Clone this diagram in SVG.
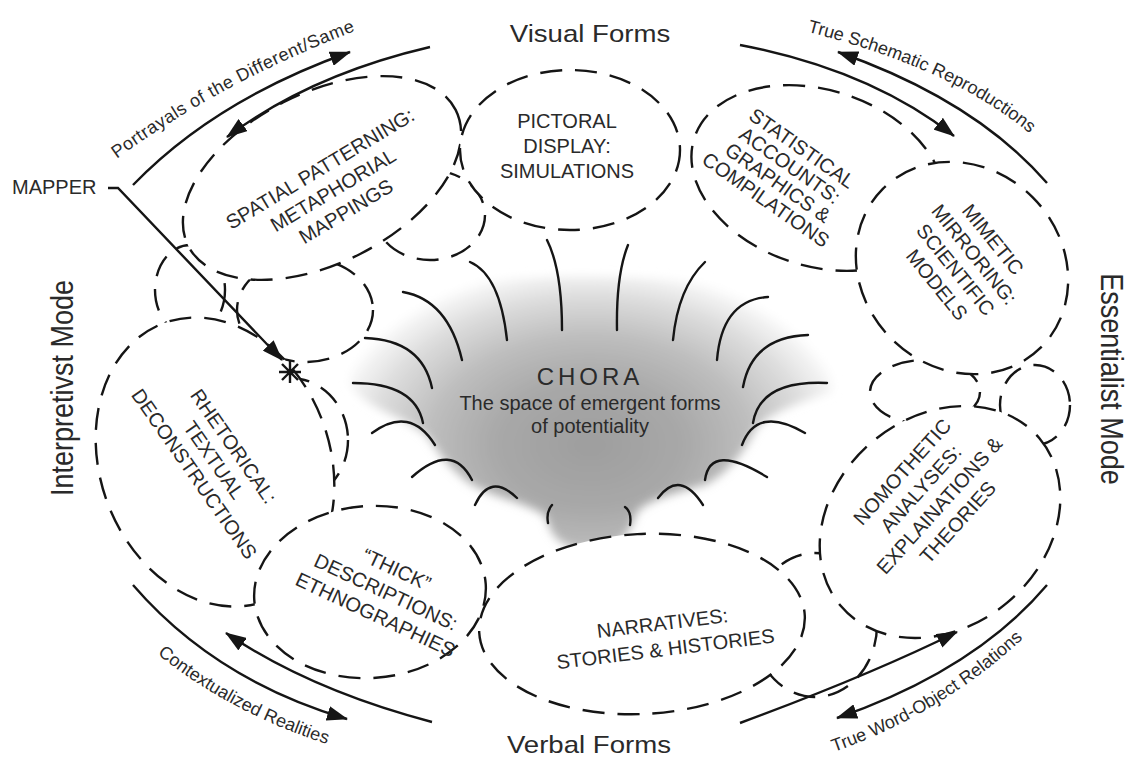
<svg xmlns="http://www.w3.org/2000/svg" width="1144" height="761" viewBox="0 0 1144 761">
  <defs>
    <style>
      .bub { fill: #ffffff; stroke: #151515; stroke-width: 2.4; stroke-dasharray: 22 13; }
      .ray { fill: none; stroke: #151515; stroke-width: 2.4; stroke-linecap: round; }
      .arc { fill: none; stroke: #151515; stroke-width: 2.4; marker-end: url(#head); }
      .txt { font-family: "Liberation Sans", Arial, sans-serif; fill: #2a2a2a; }
      .bt { font-size: 20px; text-anchor: middle; dominant-baseline: central; }
      .lab { font-size: 18px; }
      .title { font-size: 24px; text-anchor: middle; }
      .mode { font-size: 27px; text-anchor: middle; }
    </style>
    <marker id="head" markerUnits="userSpaceOnUse" markerWidth="21" markerHeight="15" refX="20" refY="7.5" orient="auto">
      <path d="M0,0 L21,7.5 L0,15 Z" fill="#151515"/>
    </marker>
    <radialGradient id="choraGrad" gradientUnits="userSpaceOnUse" cx="590" cy="445" r="265"
                    gradientTransform="translate(590 445) scale(1 0.68) translate(-590 -445)">
      <stop offset="0" stop-color="#9e9e9e"/>
      <stop offset="0.35" stop-color="#a8a8a8"/>
      <stop offset="0.6" stop-color="#bdbdbd"/>
      <stop offset="0.82" stop-color="#dcdcdc"/>
      <stop offset="0.96" stop-color="#f5f5f5"/>
      <stop offset="1" stop-color="#ffffff"/>
    </radialGradient>
    <filter id="soft" x="-20%" y="-20%" width="140%" height="140%">
      <feGaussianBlur stdDeviation="5"/>
    </filter>
    <!-- baselines for the curved arc labels -->
    <path id="pTL" d="M115,160 Q223,81 358,30"/>
    <path id="pTR" d="M800,30 Q955,68 1035,138"/>
    <path id="pBL" d="M155,652 Q229,713 330,745"/>
    <path id="pBR" d="M825,755 Q942,716 1030,632"/>
  </defs>

  <rect width="1144" height="761" fill="#ffffff"/>

  <!-- soft grey field of the chora -->
  <g id="chora-shading">
    <path filter="url(#soft)" fill="url(#choraGrad)"
          d="M350,385 C345,322 420,290 480,282 C540,274 650,274 720,286 C795,300 836,350 832,392 C800,402 772,412 757,427 C747,447 732,470 707,484 C682,492 652,497 637,512 C630,532 622,550 590,550 C558,550 550,532 546,517 C528,502 488,497 468,482 C448,467 438,452 428,437 C408,417 366,410 350,385 Z"/>
  </g>

  <!-- small linking lobes of the cloud ring -->
  <g id="ring">
    <ellipse class="bub" cx="190" cy="290" rx="35" ry="45"/>
    <ellipse class="bub" cx="305" cy="310" rx="68" ry="52"/>
    <ellipse class="bub" cx="290" cy="440" rx="58" ry="62"/>
    <ellipse class="bub" cx="430" cy="215" rx="55" ry="45"/>
    <ellipse class="bub" cx="925" cy="392" rx="55" ry="32"/>
    <ellipse class="bub" cx="1035" cy="405" rx="35" ry="40"/>
    <ellipse class="bub" cx="815" cy="625" rx="62" ry="72"/>
  </g>

  <g id="spatial">
    <ellipse class="bub" cx="322" cy="178" rx="150" ry="85" transform="rotate(-27 322 178)"/>
    <g class="txt bt" transform="translate(333,190) rotate(-31)">
      <text y="-25">SPATIAL PATTERNING:</text>
      <text y="0">METAPHORIAL</text>
      <text y="25">MAPPINGS</text>
    </g>
  </g>

  <g id="statistical">
    <ellipse class="bub" cx="818" cy="178" rx="130" ry="88" transform="rotate(18 818 178)"/>
    <g class="txt bt" transform="translate(784,174) rotate(35)">
      <text y="-31.5">STATISTICAL</text>
      <text y="-10.5">ACCOUNTS:</text>
      <text y="10.5">GRAPHICS &amp;</text>
      <text y="31.5">COMPILATIONS</text>
    </g>
  </g>

  <g id="mimetic">
    <ellipse class="bub" cx="962" cy="268" rx="112" ry="100" transform="rotate(45 962 268)"/>
    <g class="txt bt" transform="translate(965,262) rotate(51)">
      <text y="-36">MIMETIC</text>
      <text y="-12">MIRRORING:</text>
      <text y="12">SCIENTIFIC</text>
      <text y="36">MODELS</text>
    </g>
  </g>

  <g id="nomothetic">
    <ellipse class="bub" cx="940" cy="522" rx="130" ry="105" transform="rotate(-40 940 522)"/>
    <g class="txt bt" transform="translate(930,497) rotate(-48)">
      <text y="-37.5">NOMOTHETIC</text>
      <text y="-12.5">ANALYSES:</text>
      <text y="12.5">EXPLAINATIONS &amp;</text>
      <text y="37.5">THEORIES</text>
    </g>
  </g>

  <g id="rhetorical">
    <ellipse class="bub" cx="215" cy="462" rx="148" ry="115" transform="rotate(70 215 462)"/>
    <g class="txt bt" transform="translate(214,460) rotate(55)">
      <text y="-24">RHETORICAL:</text>
      <text y="0">TEXTUAL</text>
      <text y="24">DECONSTRUCTIONS</text>
    </g>
  </g>

  <g id="thick">
    <ellipse class="bub" cx="370" cy="592" rx="116" ry="86" transform="rotate(-4 370 592)"/>
    <g class="txt bt" transform="translate(386,592) rotate(25)">
      <text y="-25">“THICK”</text>
      <text y="0">DESCRIPTIONS:</text>
      <text y="25">ETHNOGRAPHIES</text>
    </g>
  </g>

  <g id="narratives">
    <ellipse class="bub" cx="642" cy="624" rx="163" ry="90" transform="rotate(-3 642 624)"/>
    <g class="txt bt" transform="translate(664,636) rotate(-7)">
      <text y="-13">NARRATIVES:</text>
      <text y="13">STORIES &amp; HISTORIES</text>
    </g>
  </g>

  <g id="pictoral">
    <ellipse class="bub" cx="570" cy="150" rx="110" ry="80"/>
    <g class="txt bt" transform="translate(567,146)">
      <text y="-25">PICTORAL</text>
      <text y="0">DISPLAY:</text>
      <text y="25">SIMULATIONS</text>
    </g>
  </g>

  <!-- the chora: radiating strokes and its caption -->
  <g id="chora">
    <path class="ray" d="M470,262 Q500,275 507,340"/>
    <path class="ray" d="M547,240 Q562,270 562,330"/>
    <path class="ray" d="M628,245 Q616,275 617,330"/>
    <path class="ray" d="M705,262 Q678,288 673,340"/>
    <path class="ray" d="M768,297 Q722,300 717,360"/>
    <path class="ray" d="M808,335 Q752,337 743,387"/>
    <path class="ray" d="M827,383 Q760,380 753,423"/>
    <path class="ray" d="M805,433 Q757,405 742,445"/>
    <path class="ray" d="M767,477 Q710,442 705,480"/>
    <path class="ray" d="M703,505 Q680,469 658,498"/>
    <path class="ray" d="M630,525 Q632,512 625,507"/>
    <path class="ray" d="M548,523 Q546,512 552,505"/>
    <path class="ray" d="M517,498 Q490,472 475,505"/>
    <path class="ray" d="M472,480 Q452,441 412,477"/>
    <path class="ray" d="M435,445 Q410,405 372,433"/>
    <path class="ray" d="M423,423 Q415,383 353,383"/>
    <path class="ray" d="M432,388 Q422,340 365,338"/>
    <path class="ray" d="M462,360 Q448,300 403,292"/>
    <text class="txt" x="590" y="385" font-size="24" letter-spacing="4" text-anchor="middle">CHORA</text>
    <text class="txt" x="590" y="410" font-size="20" text-anchor="middle">The space of emergent forms</text>
    <text class="txt" x="590" y="433" font-size="20" text-anchor="middle">of potentiality</text>
  </g>

  <!-- the mapper and its pointer -->
  <g id="mapper">
    <text class="txt" x="12" y="194" font-size="20">MAPPER</text>
    <path d="M290,361 V383 M279,372 H301 M282,364 L298,380 M282,380 L298,364" stroke="#151515" stroke-width="2.4" fill="none"/>
  </g>

  <!-- titles -->
  <g id="titles" class="txt">
    <text class="title" transform="translate(590,42) scale(1.15,1)">Visual Forms</text>
    <text class="title" transform="translate(589,753) scale(1.15,1)">Verbal Forms</text>
    <text class="mode" transform="translate(73,388) rotate(-90) scale(1,1.15)">Interpretivst Mode</text>
    <text class="mode" transform="translate(1101,379) rotate(90) scale(1,1.15)">Essentialist Mode</text>
  </g>

  <g id="connectors">
    <path class="arc" d="M133,185 Q215,100 350,52"/>
    <path class="arc" d="M430,47 Q310,75 227,137"/>
    <path class="arc" d="M740,45 Q870,70 954,136"/>
    <path class="arc" d="M1047,183 Q975,100 838,52"/>
    <path class="arc" d="M133,585 Q215,680 347,719"/>
    <path class="arc" d="M432,722 Q310,690 226,633"/>
    <path class="arc" d="M740,723 Q870,675 957,632"/>
    <path class="arc" d="M1047,585 Q975,670 837,718"/>
    <path class="arc" d="M108,188 H118 L282,360"/>
  </g>

  <g id="arc-labels" class="txt lab">
    <text letter-spacing="0.5"><textPath href="#pTL" startOffset="50%" text-anchor="middle">Portrayals of the Different/Same</textPath></text>
    <text><textPath href="#pTR" startOffset="50%" text-anchor="middle">True Schematic Reproductions</textPath></text>
    <text><textPath href="#pBL" startOffset="50%" text-anchor="middle">Contextualized Realities</textPath></text>
    <text><textPath href="#pBR" startOffset="50%" text-anchor="middle">True Word-Object Relations</textPath></text>
  </g>
</svg>
